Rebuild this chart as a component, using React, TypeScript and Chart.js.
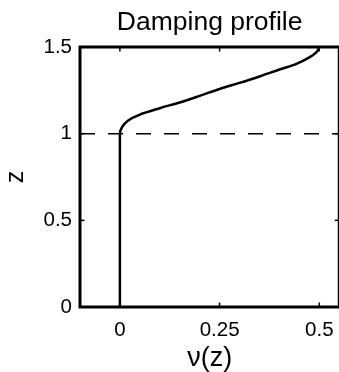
import React, { useEffect, useRef } from "react";
import { Chart, registerables } from "chart.js";

Chart.register(...registerables);

// ---- data ----
const NU = [0, 0, 0, 0.006, 0.02, 0.05, 0.1, 0.15, 0.2, 0.25, 0.3, 0.35, 0.4, 0.44, 0.475, 0.493, 0.5];
const Z = [0, 0.9, 1, 1.04, 1.075, 1.11, 1.147, 1.18, 1.218, 1.258, 1.293, 1.33, 1.37, 1.4, 1.44, 1.47, 1.5];
const X_TICKS = [0, 0.25, 0.5];
const X_TICK_LABELS = ["0", "0.25", "0.5"];
const Y_TICKS = [0, 0.5, 1, 1.5];
const Y_TICK_LABELS = ["0", "0.5", "1", "1.5"];
const X_RANGE = [-0.1, 0.55];
const Y_RANGE = [0, 1.5];
const THRESHOLD_Z = 1;
const TITLE = "Damping profile";
const X_LABEL = "ν(z)";
const Y_LABEL = "z";

const FONT = "'Liberation Sans', Arial, Helvetica, sans-serif";

const framePlugin = {
  id: "frame",
  afterDatasetsDraw(chart: any) {
    const { ctx, chartArea: a, scales } = chart;
    ctx.save();
    ctx.strokeStyle = "#000";
    ctx.lineCap = "square";
    ctx.lineWidth = 3;
    ctx.strokeRect(a.left, a.top, a.right - a.left, a.bottom - a.top);
    ctx.lineWidth = 1.5;
    ctx.lineCap = "butt";
    const tl = 4.5;
    const seg = (x1: number, y1: number, x2: number, y2: number) => {
      ctx.beginPath();
      ctx.moveTo(x1, y1);
      ctx.lineTo(x2, y2);
      ctx.stroke();
    };
    for (const t of scales.x.ticks) {
      const px = scales.x.getPixelForValue(t.value);
      seg(px, a.bottom, px, a.bottom - tl);
      seg(px, a.top, px, a.top + tl);
    }
    for (const t of scales.y.ticks) {
      const py = scales.y.getPixelForValue(t.value);
      seg(a.left, py, a.left + tl, py);
      seg(a.right, py, a.right - tl, py);
    }
    ctx.restore();
  },
};

export default function App() {
  const ref = useRef<HTMLCanvasElement | null>(null);

  useEffect(() => {
    document.body.style.margin = "0";
    if (!ref.current) return;
    const chart = new Chart(ref.current, {
      type: "scatter",
      data: {
        datasets: [
          {
            data: [
              { x: X_RANGE[0], y: THRESHOLD_Z },
              { x: X_RANGE[1], y: THRESHOLD_Z },
            ],
            showLine: true,
            borderColor: "#000",
            borderWidth: 1.5,
            borderDash: [15, 13],
            pointRadius: 0,
          },
          {
            data: NU.map((x, i) => ({ x, y: Z[i] })),
            showLine: true,
            indexAxis: "y",
            cubicInterpolationMode: "monotone",
            borderColor: "#000",
            borderWidth: 2.5,
            pointRadius: 0,
          },
        ],
      },
      options: {
        animation: false,
        responsive: false,
        events: [],
        layout: { padding: { left: 0, right: 5, top: 0, bottom: 0 } },
        plugins: {
          legend: { display: false },
          tooltip: { enabled: false },
          title: {
            display: true,
            fullSize: false,
            text: TITLE,
            color: "#000",
            font: { family: FONT, size: 26.5, weight: "normal", lineHeight: 1.2 },
            padding: { top: 6.5, bottom: 8.7 },
          },
        },
        scales: {
          x: {
            type: "linear",
            min: X_RANGE[0],
            max: X_RANGE[1],
            grid: { display: false, drawTicks: false },
            border: { display: false },
            afterBuildTicks: (s: any) => {
              s.ticks = X_TICKS.map((v) => ({ value: v }));
            },
            afterFit: (s: any) => {
              s.height = 65;
            },
            ticks: {
              color: "#000",
              padding: 11,
              maxRotation: 0,
              font: { family: FONT, size: 20.5 },
              callback: (v: any) => X_TICK_LABELS[X_TICKS.indexOf(Number(v))] ?? "",
            },
            title: {
              display: true,
              text: X_LABEL,
              color: "#000",
              font: { family: FONT, size: 27, lineHeight: 1.0 },
              padding: { top: 0, bottom: 0 },
            },
          },
          y: {
            type: "linear",
            min: Y_RANGE[0],
            max: Y_RANGE[1],
            grid: { display: false, drawTicks: false },
            border: { display: false },
            afterBuildTicks: (s: any) => {
              s.ticks = Y_TICKS.map((v) => ({ value: v }));
            },
            afterFit: (s: any) => {
              s.width = 80;
            },
            ticks: {
              color: "#000",
              padding: 8,
              font: { family: FONT, size: 20.5 },
              callback: (v: any) => Y_TICK_LABELS[Y_TICKS.indexOf(Number(v))] ?? "",
            },
            title: {
              display: true,
              text: Y_LABEL,
              color: "#000",
              font: { family: FONT, size: 25, lineHeight: 1.2 },
              padding: { top: 1, bottom: 0 },
            },
          },
        },
      },
      plugins: [framePlugin],
    } as any);
    return () => chart.destroy();
  }, []);

  return (
    <div style={{ width: 339, height: 372, overflow: "hidden", position: "relative", background: "#fff" }}>
      <canvas ref={ref} width={345} height={372} style={{ display: "block" }} />
    </div>
  );
}
